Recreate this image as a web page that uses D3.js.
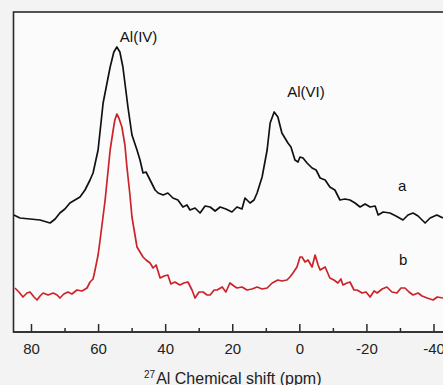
<!DOCTYPE html>
<html>
<head>
<meta charset="utf-8">
<script src="https://cdn.jsdelivr.net/npm/d3@7"></script>
<style>
  body { margin: 0; background: #f3f3f3; }
  svg { display: block; font-family: "Liberation Sans", Arial, sans-serif; }
</style>
</head>
<body>
<script>
var width = 443, height = 385

// spectrum a (black) : chemical shift (ppm) / intensity (a.u.)
var shiftA = [85.1, 83.3, 80.3, 77.3, 74.3, 72.8, 71.4, 69.9, 68.4, 66.9, 65.4, 63.9, 62.4, 61.5, 60.0, 58.5, 56.4, 55.3, 54.4, 53.5,
  52.6, 51.1, 49.9, 48.4, 47.5, 46.6, 45.7, 44.5, 43.0, 42.1, 40.6, 39.2, 37.7, 36.2, 34.7, 33.5, 32.6, 31.1, 29.6, 28.1,
  26.6, 25.1, 23.6, 21.9, 20.1, 18.6, 17.1, 16.2, 14.7, 13.5, 12.6, 11.1, 9.6, 8.7, 7.5, 6.4, 5.2, 4.3, 3.4, 2.5,
  1.3, 0.4, -0.2, -1.1, -2.3, -3.8, -5.0, -6.2, -7.7, -9.1, -10.6, -12.1, -13.6, -15.1, -16.6, -18.1, -19.6, -21.1, -22.6, -23.5,
  -25.0, -27.0, -28.8, -30.9, -32.4, -33.9, -35.4, -37.5, -39.0, -41.0, -42.8]
var intA = [117, 114, 113, 112, 109, 113, 119, 123, 129, 132, 135, 142, 152, 159, 182, 229, 265, 280, 285, 280,
  265, 225, 197, 182, 172, 159, 160, 152, 142, 139, 137, 139, 134, 132, 125, 127, 122, 124, 119, 126,
  125, 121, 125, 123, 120, 125, 123, 134, 129, 132, 139, 155, 182, 209, 220, 215, 199, 194, 189, 185,
  172, 170, 175, 174, 169, 164, 162, 154, 152, 145, 142, 132, 133, 132, 129, 125, 128, 125, 126, 117,
  120, 119, 116, 112, 117, 119, 116, 109, 114, 117, 114]

// spectrum b (red)
var shiftB = [84.8, 83.6, 82.4, 81.2, 80.3, 79.1, 78.2, 77.3, 76.4, 74.9, 73.4, 72.2, 71.4, 70.2, 69.0, 67.8, 66.3, 64.8, 63.3, 62.4,
  61.5, 60.9, 60.0, 59.4, 57.9, 56.4, 55.5, 55.0, 54.4, 53.8, 52.9, 52.0, 51.4, 50.5, 49.9, 49.0, 48.4, 47.5, 46.6, 45.7,
  44.5, 43.6, 42.7, 41.5, 40.3, 39.2, 38.3, 37.1, 35.6, 34.4, 33.2, 32.0, 31.1, 29.9, 28.7, 27.5, 26.6, 25.4, 24.5, 23.0,
  21.9, 20.7, 19.5, 18.6, 17.1, 15.6, 14.1, 12.6, 11.1, 9.6, 8.1, 6.4, 5.2, 3.7, 2.8, 1.9, 0.7, -0.2, -0.8, -1.7,
  -2.6, -3.8, -4.7, -5.6, -6.2, -7.7, -9.1, -10.3, -11.5, -12.4, -13.0, -14.2, -15.1, -16.3, -17.2, -18.7, -19.9, -21.1, -22.3, -23.2,
  -24.7, -26.1, -27.6, -29.1, -30.3, -31.5, -32.7, -33.9, -35.4, -36.6, -38.1, -39.9, -41.1, -42.8]
var intB = [44, 40, 35, 39, 40, 35, 32, 36, 39, 37, 39, 37, 34, 38, 40, 38, 42, 41, 44, 50,
  53, 62, 77, 92, 132, 182, 202, 212, 218, 214, 205, 187, 165, 137, 115, 97, 85, 80, 75, 72,
  69, 64, 67, 54, 56, 57, 48, 50, 47, 49, 50, 42, 34, 40, 40, 37, 37, 42, 42, 45,
  40, 49, 46, 44, 45, 42, 43, 45, 43, 44, 49, 52, 51, 52, 55, 59, 65, 75, 75, 70,
  72, 65, 77, 67, 62, 65, 54, 52, 49, 53, 47, 49, 50, 42, 42, 39, 40, 35, 41, 39,
  43, 45, 40, 39, 44, 44, 40, 37, 39, 36, 34, 32, 35, 34]

var majorTicks = [80, 60, 40, 20, 0, -20, -40]
var minorTicks = [70, 50, 30, 10, -10, -30]

var peakNames = ["Al(IV)", "Al(VI)"]
var peakShift = [54.4, 7.5]
var peakInt = [285, 220]

var plotLeft = 13.5, plotTop = 12, plotBottom = 332

var x = d3.scaleLinear()
    .domain([80, -40])
    .range([31, 433.5]);

var y = d3.scaleLinear()
    .domain([0, 320])
    .range([plotBottom, plotTop]);

var svg = d3.select("body").append("svg")
    .attr("width", width)
    .attr("height", height)

svg.append("defs").append("clipPath")
    .attr("id", "plot")
  .append("rect")
    .attr("x", plotLeft)
    .attr("y", plotTop)
    .attr("width", width - plotLeft + 5)
    .attr("height", plotBottom - plotTop)

// plot background + frame
svg.append("rect")
    .attr("x", plotLeft)
    .attr("y", plotTop)
    .attr("width", width - plotLeft + 5)
    .attr("height", plotBottom - plotTop)
    .attr("fill", "#fbfbfb")
    .attr("stroke", "#2b2b2b")
    .attr("stroke-width", 1.6)

var line = d3.line()
    .x(function(d) { return x(d[0]) })
    .y(function(d) { return y(d[1]) })

var curves = svg.append("g").attr("clip-path", "url(#plot)")

curves.append("path")
    .datum(d3.zip(shiftA, intA))
    .attr("d", line)
    .attr("fill", "none")
    .attr("stroke", "#111")
    .attr("stroke-width", 1.7)
    .attr("stroke-linejoin", "round")

curves.append("path")
    .datum(d3.zip(shiftB, intB))
    .attr("d", line)
    .attr("fill", "none")
    .attr("stroke", "#cc2229")
    .attr("stroke-width", 1.7)
    .attr("stroke-linejoin", "round")

// axis: major ticks with labels, minor ticks inward
var axis = svg.append("g")
    .attr("transform", "translate(0," + plotBottom + ")")
    .call(d3.axisBottom(x).tickValues(majorTicks).tickSize(-8).tickPadding(11)
      .tickFormat(function(d) { return String(d) }))

axis.select(".domain").remove()
axis.selectAll("line").attr("stroke", "#2b2b2b").attr("stroke-width", 1.5)
axis.selectAll("text")
    .attr("fill", "#222")
    .style("font-size", "15px")
    .style("font-family", "Liberation Sans, Arial, sans-serif")

var minor = svg.append("g")
    .attr("transform", "translate(0," + plotBottom + ")")
    .call(d3.axisBottom(x).tickValues(minorTicks).tickSize(-4).tickFormat(""))

minor.select(".domain").remove()
minor.selectAll("line").attr("stroke", "#2b2b2b").attr("stroke-width", 1.5)

svg.append("line")
    .attr("x1", plotLeft)
    .attr("x2", width)
    .attr("y1", plotBottom)
    .attr("y2", plotBottom)
    .attr("stroke", "#2b2b2b")
    .attr("stroke-width", 1.6)

// peak labels
svg.selectAll(".peak")
    .data(peakNames)
  .enter().append("text")
    .attr("class", "peak")
    .text(function(d) { return d })
    .attr("x", function(d, i) { return x(peakShift[i]) + (i === 0 ? 3 : 13) })
    .attr("y", function(d, i) { return y(peakInt[i]) - (i === 0 ? 5 : 15) })
    .attr("font-size", 15)
    .attr("fill", "#111")

// series labels
svg.append("text")
    .text("a")
    .attr("x", 398)
    .attr("y", 191)
    .attr("font-size", 15)
    .attr("fill", "#111")

svg.append("text")
    .text("b")
    .attr("x", 399)
    .attr("y", 265)
    .attr("font-size", 15)
    .attr("fill", "#111")

// axis title
var title = svg.append("text")
    .attr("x", 144)
    .attr("y", 384)
    .attr("fill", "#222")

title.append("tspan")
    .text("27")
    .attr("font-size", 10)
    .attr("dy", -6)

title.append("tspan")
    .text("Al Chemical shift (ppm)")
    .attr("font-size", 16)
    .attr("dy", 6)
    .attr("dx", 1)
</script>
</body>
</html>
